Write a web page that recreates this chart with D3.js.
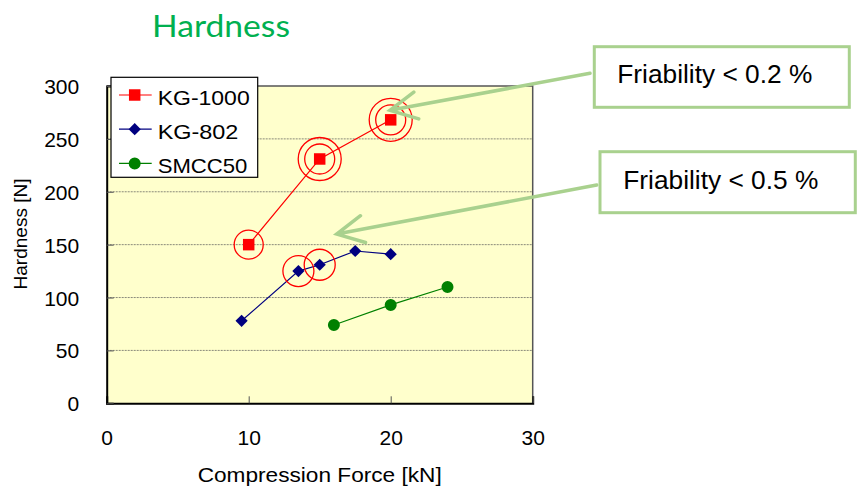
<!DOCTYPE html>
<html><head><meta charset="utf-8">
<script src="https://cdn.jsdelivr.net/npm/d3@7"></script>
<style>body{margin:0;background:#fff}svg{display:block}</style>
</head><body>
<script>
// ---- data ----
const seriesNames = ["KG-1000", "KG-802", "SMCC50"];
const kg1000X = [10, 15, 20];
const kg1000Y = [150, 231, 268];
const kg1000Rings = [1, 2, 2];
const kg802X = [9.5, 13.5, 15, 17.5, 20];
const kg802Y = [78, 125, 131, 144, 141];
const kg802Rings = [0, 1, 1, 0, 0];
const smccX = [16, 20, 24];
const smccY = [74, 93, 110];
const smccRings = [0, 0, 0];
const xTicks = [0, 10, 20, 30];
const yTicks = [0, 50, 100, 150, 200, 250, 300];
const titleText = "Hardness";
const xTitle = "Compression Force [kN]";
const yTitle = "Hardness [N]";
const notes = ["Friability < 0.2 %", "Friability < 0.5 %"];
const noteTipX = [19.95, 16.2];
const noteTipY = [277, 160];

// ---- layout ----
const W = 859, H = 493;
const m = {l: 106.7, t: 86, r: 532.7, b: 403.3};
const svg = d3.select("body").append("svg").attr("width", W).attr("height", H);
const x = d3.scaleLinear().domain([0, 30]).range([m.l, m.r]);
const y = d3.scaleLinear().domain([0, 300]).range([m.b, m.t]);
const font = "'Liberation Sans', Arial, sans-serif";

// title
svg.append("text").attr("x", 152).attr("y", 36.5).text(titleText)
  .attr("font-family", "Lato, 'Open Sans', sans-serif").attr("font-size", 31)
  .attr("fill", "#00b050").attr("textLength", 138).attr("lengthAdjust", "spacingAndGlyphs");

// plot background
svg.append("rect").attr("x", m.l).attr("y", m.t).attr("width", m.r - m.l).attr("height", m.b - m.t)
  .attr("fill", "#ffffcc");

// gridlines
svg.append("g").selectAll("line").data(yTicks.filter(v => v > 0 && v < 300)).join("line")
  .attr("x1", m.l).attr("x2", m.r).attr("y1", d => y(d)).attr("y2", d => y(d))
  .attr("stroke", "#8a8a7a").attr("stroke-width", 1).attr("stroke-dasharray", "2,1");

// border top/right
svg.append("path").attr("d", `M${m.l},${m.t}H${m.r}V${m.b}`).attr("fill", "none")
  .attr("stroke", "#555").attr("stroke-width", 1.5);

// axes
const xAxis = d3.axisBottom(x).tickValues(xTicks).tickSize(-7).tickPadding(0).tickFormat(d3.format("d"));
const gx = svg.append("g").attr("transform", `translate(0,${m.b})`).call(xAxis);
gx.select(".domain").attr("stroke", "#000").attr("stroke-width", 2);
gx.selectAll(".tick line").attr("stroke", "#555");
gx.selectAll(".tick text").attr("font-family", font).attr("font-size", 21).attr("fill", "#000")
  .attr("dy", null).attr("y", 41.7);

const yAxis = d3.axisLeft(y).tickValues(yTicks).tickSize(-7).tickPadding(0).tickFormat(d3.format("d"));
const gy = svg.append("g").attr("transform", `translate(${m.l},0)`).call(yAxis);
gy.select(".domain").attr("stroke", "#000").attr("stroke-width", 2);
gy.selectAll(".tick line").attr("stroke", "#555");
gy.selectAll(".tick text").attr("font-family", font).attr("font-size", 21).attr("fill", "#000")
  .attr("x", -27.5).attr("dy", "0.36em");

// axis titles
svg.append("text").attr("x", (m.l + m.r) / 2).attr("y", 481.5).attr("text-anchor", "middle")
  .attr("font-family", font).attr("font-size", 21).text(xTitle)
  .attr("textLength", 244).attr("lengthAdjust", "spacingAndGlyphs");
svg.append("text").attr("transform", `translate(27,234) rotate(-90)`).attr("text-anchor", "middle")
  .attr("font-family", font).attr("font-size", 19).text(yTitle);

// series
const series = [
  {name: seriesNames[0], xs: kg1000X, ys: kg1000Y, rings: kg1000Rings, color: "#ff0000", sym: d3.symbolSquare, size: 132},
  {name: seriesNames[1], xs: kg802X, ys: kg802Y, rings: kg802Rings, color: "#000080", sym: d3.symbolDiamond2, size: 95},
  {name: seriesNames[2], xs: smccX, ys: smccY, rings: smccRings, color: "#008000", sym: d3.symbolCircle, size: 113}
];
const line = d3.line().x(d => x(d[0])).y(d => y(d[1]));
series.forEach(s => {
  const pts = s.xs.map((v, i) => [v, s.ys[i], s.rings[i]]);
  const g = svg.append("g");
  g.append("path").attr("d", line(pts)).attr("fill", "none").attr("stroke", s.color).attr("stroke-width", 1.2);
  g.selectAll("path.m").data(pts).join("path").attr("class", "m")
    .attr("transform", d => `translate(${x(d[0])},${y(d[1])})`)
    .attr("d", d3.symbol().type(s.sym).size(s.size)).attr("fill", s.color);
  // highlight rings
  pts.forEach(d => {
    const radii = d[2] === 2 ? [15, 21.5] : d[2] === 1 ? [s.name === "KG-802" ? 15.5 : 14.5] : [];
    radii.forEach(r => g.append("circle").attr("cx", x(d[0])).attr("cy", y(d[1])).attr("r", r)
      .attr("fill", "none").attr("stroke", "#ff0000").attr("stroke-width", 1.3));
  });
});

// legend
const lg = svg.append("g");
lg.append("rect").attr("x", 111).attr("y", 77.3).attr("width", 146.7).attr("height", 100)
  .attr("fill", "#fff").attr("stroke", "#000").attr("stroke-width", 1.2);
const legendLens = [92, 80.7, 89.7];
series.forEach((s, i) => {
  const ry = 95 + i * 34.2;
  lg.append("line").attr("x1", 119).attr("x2", 151.7).attr("y1", ry).attr("y2", ry)
    .attr("stroke", s.color).attr("stroke-width", 1.2);
  lg.append("path").attr("transform", `translate(134.7,${ry})`)
    .attr("d", d3.symbol().type(s.sym).size(s.size)).attr("fill", s.color);
  lg.append("text").attr("x", 157.7).attr("y", ry + 9.5).text(s.name)
    .attr("font-family", font).attr("font-size", 21)
    .attr("textLength", legendLens[i]).attr("lengthAdjust", "spacingAndGlyphs");
});

// annotation boxes and arrows
const boxes = [
  {x0: 594.3, y0: 46.7, x1: 849.3, y1: 107.3, tx: 617.3, ty: 83.3, sx: 590, sy: 73.3},
  {x0: 600, y0: 151.7, x1: 855.3, y1: 212.7, tx: 623.3, ty: 189.3, sx: 596.7, sy: 185}
];
const green = "#a9d18e";
boxes.forEach((b, i) => {
  const tx = x(noteTipX[i]), ty = y(noteTipY[i]);
  const ang = Math.atan2(b.sy - ty, b.sx - tx);
  const L = 30, A = 27 * Math.PI / 180;
  const a1 = [tx + L * Math.cos(ang - A), ty + L * Math.sin(ang - A)];
  const a2 = [tx + L * Math.cos(ang + A), ty + L * Math.sin(ang + A)];
  svg.append("path").attr("d", `M${b.sx},${b.sy}L${tx},${ty}M${a1[0]},${a1[1]}L${tx},${ty}L${a2[0]},${a2[1]}`)
    .attr("fill", "none").attr("stroke", green).attr("stroke-width", 3.5).attr("stroke-linecap", "round");
  svg.append("rect").attr("x", b.x0).attr("y", b.y0).attr("width", b.x1 - b.x0).attr("height", b.y1 - b.y0)
    .attr("fill", "#fff").attr("stroke", green).attr("stroke-width", 3);
  svg.append("text").attr("x", b.tx).attr("y", b.ty).text(notes[i])
    .attr("font-family", font).attr("font-size", 26)
    .attr("textLength", 195).attr("lengthAdjust", "spacingAndGlyphs");
});
</script>
</body></html>
